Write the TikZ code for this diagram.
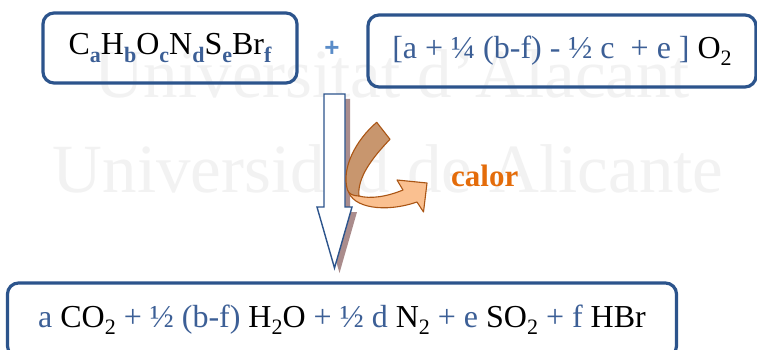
\documentclass[tikz,border=0pt]{standalone}
\usepackage{fontspec}
\setmainfont{Liberation Serif}
\newfontfamily\plusfont{Liberation Sans}
\usetikzlibrary{positioning}

\definecolor{boxblue}{RGB}{44,84,140}
\definecolor{coefblue}{RGB}{60,95,150}
\definecolor{plusblue}{RGB}{90,140,200}
\definecolor{heatorange}{RGB}{228,108,10}
\definecolor{ribbonlight}{RGB}{250,192,144}
\definecolor{ribbondark}{RGB}{200,150,110}
\definecolor{ribbonedge}{RGB}{170,85,20}
\definecolor{shadowbrown}{RGB}{170,140,140}

\newcommand\lo[1]{\raisebox{-0.23em}{\fontsize{22}{22}\selectfont #1}}
\newcommand\cb[1]{\textcolor{coefblue}{#1}}

\begin{document}
\begin{tikzpicture}[
  x=1pt, y=-1pt,
  font=\fontsize{32}{38}\selectfont,
  eqbox/.style={draw=boxblue, line width=3.2pt, rounded corners=11pt, inner sep=0pt, align=center},
  wmtext/.style={text=black!5, font=\fontsize{69}{80}\selectfont, inner sep=0pt},
  plussign/.style={text=plusblue, font=\plusfont\fontsize{26}{30}\selectfont\bfseries, inner sep=0pt},
  heatlabel/.style={text=heatorange, font=\fontsize{31}{34}\selectfont\bfseries, inner sep=0pt},
  downarrow/.style={draw=boxblue, line width=1.4pt, fill=white, line join=miter},
  ribbonfront/.style={draw=ribbonedge, line width=1.1pt, fill=ribbonlight, line join=round},
  ribbonback/.style={draw=ribbonedge, line width=1.1pt, fill=ribbondark, line join=round}
]

\clip (0,0) rectangle (757,350);
\fill[white] (0,0) rectangle (757,350);

% watermark
\node[wmtext, anchor=base] (wmtop) at (392,98) {Universitat d'Alacant};
\node[wmtext, anchor=base] (wmbottom) at (388,192) {Universidad de Alicante};

\node[eqbox, minimum width=254, minimum height=70] (fuel) at (170,48)
  {C\lo{\textbf{\cb{a}}}H\lo{\textbf{\cb{b}}}O\lo{\textbf{\cb{c}}}N\lo{\textbf{\cb{d}}}S\lo{\textbf{\cb{e}}}Br\lo{\textbf{\cb{f}}}};
\node[plussign] (plus) at (332,49) {+};
\node[eqbox, minimum width=388, minimum height=72] (oxygen) at (562,51)
  {\cb{[a + ¼ (b-f) - ½ c \ + e ]} O\lo{2}};

\node[eqbox, minimum width=669, minimum height=74] (products) at (342,320)
  {\cb{a} CO\lo{2} \cb{+ ½ (b-f)} H\lo{2}O \cb{+ ½ d} N\lo{2} \cb{+ e} SO\lo{2} \cb{+ f} HBr};

% reaction arrow with its shadow
\fill[shadowbrown, shift={(5,5)}] (324,94) -- (345,94) -- (345,207) -- (352,207) -- (334.5,268) -- (317,207) -- (324,207) -- cycle;
\draw[downarrow] (324,94) -- (345,94) -- (345,207) -- (352,207) -- (334.5,268) -- (317,207) -- (324,207) -- cycle;

% heat released
\draw[ribbonfront] (348,190) .. controls (352,208) and (385,213) .. (417,202) -- (423.5,212) -- (427,183)
  -- (397,180) -- (403,190) .. controls (386,197) and (370,199) .. (359,196) -- cycle;
\draw[ribbonback] (376.7,122.3) -- (390,139.3) .. controls (372,158) and (357,178) .. (359,196)
  .. controls (353,196) and (349,194) .. (347.5,190) .. controls (341,168) and (356,140) .. cycle;
\node[heatlabel, anchor=base west] (heat) at (451,186) {calor};

\end{tikzpicture}
\end{document}
